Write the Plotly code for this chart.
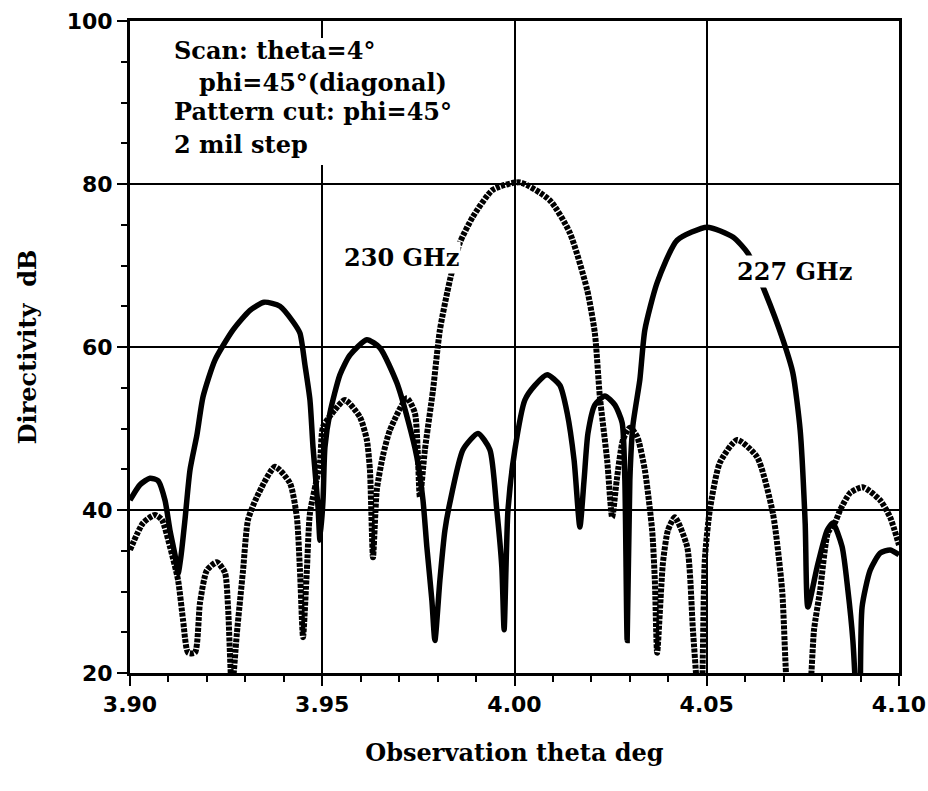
import plotly.graph_objects as go

# 227 GHz (solid curve)
theta_227 = [3.9000, 3.9026, 3.9052, 3.9073, 3.9091, 3.9104, 3.9117, 3.9125, 3.9133, 3.9143,
             3.9156, 3.9174, 3.9190, 3.9221, 3.9268, 3.9312, 3.9349, 3.9390, 3.9424, 3.9442,
             3.9455, 3.9468, 3.9476, 3.9489, 3.9494, 3.9502, 3.9507, 3.9520, 3.9546, 3.9572,
             3.9616, 3.9650, 3.9694, 3.9723, 3.9746, 3.9762, 3.9772, 3.9785, 3.9793, 3.9806,
             3.9819, 3.9832, 3.9866, 3.9905, 3.9936, 3.9954, 3.9967, 3.9973, 3.9983, 4.0001,
             4.0027, 4.0053, 4.0085, 4.0118, 4.0137, 4.0155, 4.0170, 4.0181, 4.0191, 4.0209,
             4.0235, 4.0261, 4.0280, 4.0287, 4.0293, 4.0300, 4.0308, 4.0326, 4.0339, 4.0371,
             4.0423, 4.0501, 4.0568, 4.0607, 4.0652, 4.0698, 4.0724, 4.0743, 4.0756, 4.0763,
             4.0787, 4.0813, 4.0828, 4.0852, 4.0867, 4.0880, 4.0888, 4.0894, 4.0899, 4.0904,
             4.0925, 4.0951, 4.0977, 4.1000]
dir_227 = [41.2, 43.1, 43.9, 43.6, 41.2, 37.5, 34.5, 32.2, 34.5, 38.8,
           44.9, 49.2, 53.9, 58.4, 62.1, 64.5, 65.5, 65.0, 63.1, 61.7,
           57.8, 53.5, 47.7, 40.4, 36.3, 41.2, 47.7, 51.9, 56.6, 59.0,
           60.9, 59.9, 55.6, 51.0, 46.5, 41.2, 35.5, 29.0, 24.0, 31.4,
           37.5, 40.9, 47.4, 49.4, 47.4, 40.0, 33.0, 25.3, 40.0, 47.4,
           53.5, 55.3, 56.6, 55.3, 51.9, 46.1, 37.9, 43.7, 49.4, 52.9,
           54.0, 52.9, 50.7, 43.7, 24.0, 43.7, 50.4, 56.0, 62.1, 67.9,
           73.1, 74.7, 73.5, 71.5, 66.7, 60.9, 56.8, 49.8, 38.4, 28.1,
           33.0, 37.5, 38.4, 35.5, 30.2, 24.0, 17.0, 10.0, 17.0, 28.1,
           32.6, 34.7, 35.1, 34.5]

# 230 GHz (dotted curve)
theta_230 = [3.9000, 3.9034, 3.9065, 3.9083, 3.9104, 3.9125, 3.9138, 3.9151, 3.9169, 3.9182,
             3.9200, 3.9226, 3.9247, 3.9255, 3.9265, 3.9278, 3.9294, 3.9307, 3.9330, 3.9377,
             3.9416, 3.9434, 3.9442, 3.9450, 3.9460, 3.9468, 3.9494, 3.9502, 3.9533, 3.9559,
             3.9598, 3.9616, 3.9624, 3.9632, 3.9642, 3.9658, 3.9676, 3.9720, 3.9741, 3.9754,
             3.9767, 3.9788, 3.9806, 3.9832, 3.9858, 3.9892, 3.9944, 4.0014, 4.0092, 4.0144,
             4.0189, 4.0209, 4.0222, 4.0241, 4.0254, 4.0266, 4.0282, 4.0300, 4.0319, 4.0339,
             4.0358, 4.0365, 4.0371, 4.0386, 4.0399, 4.0417, 4.0449, 4.0464, 4.0475, 4.0482,
             4.0488, 4.0495, 4.0508, 4.0534, 4.0579, 4.0631, 4.0672, 4.0696, 4.0709, 4.0739,
             4.0769, 4.0779, 4.0795, 4.0815, 4.0834, 4.0847, 4.0873, 4.0906, 4.0951, 4.0977,
             4.1000]
dir_230 = [35.1, 38.4, 39.4, 38.8, 35.5, 31.4, 26.5, 22.5, 22.5, 28.6,
           32.6, 33.6, 32.3, 28.1, 17.9, 24.9, 32.6, 38.8, 41.6, 45.3,
           43.3, 39.1, 32.6, 24.4, 32.6, 39.6, 45.8, 50.2, 52.3, 53.5,
           51.4, 48.6, 44.9, 34.2, 42.5, 46.7, 49.8, 53.7, 51.9, 41.6,
           47.4, 54.7, 62.1, 68.2, 72.8, 76.0, 79.3, 80.2, 78.0, 74.0,
           67.0, 61.7, 53.9, 46.1, 39.1, 43.7, 48.6, 50.1, 49.0, 44.9,
           37.5, 31.4, 22.5, 33.5, 37.5, 39.1, 35.5, 25.3, 17.9, 12.0,
           17.9, 33.9, 40.0, 45.8, 48.6, 46.5, 39.6, 30.2, 17.9, 8.0,
           17.9, 25.3, 30.2, 37.2, 38.5, 40.0, 42.1, 42.8, 41.2, 39.1,
           35.7]

x_tick_vals = [3.90, 3.95, 4.00, 4.05, 4.10]
x_tick_text = ["3.90", "3.95", "4.00", "4.05", "4.10"]
y_tick_vals = [20, 40, 60, 80, 100]
y_tick_text = ["20", "40", "60", "80", "100"]

info_lines = ["Scan: theta=4°", "phi=45°(diagonal)", "Pattern cut: phi=45°", "2 mil step"]

SERIF = "DejaVu Serif"
SANS = "DejaVu Sans"

fig = go.Figure()
fig.add_trace(go.Scatter(
    x=theta_230, y=dir_230, mode="lines", name="230 GHz",
    line=dict(color="black", width=6, dash="4px,1.3px", shape="spline", smoothing=0.6),
))
fig.add_trace(go.Scatter(
    x=theta_227, y=dir_227, mode="lines", name="227 GHz",
    line=dict(color="black", width=5.5, shape="spline", smoothing=0.6),
))

axis_common = dict(
    showgrid=True, gridcolor="black", gridwidth=2,
    showline=True, linecolor="black", linewidth=3, mirror=True,
    zeroline=False, ticks="outside", ticklen=10, tickwidth=2, tickcolor="black",
    automargin=False,
    tickfont=dict(family=SANS, size=22, color="black", weight="bold"),
)

fig.update_layout(
    width=928, height=791,
    margin=dict(l=130, r=29, t=21, b=118, autoexpand=False),
    paper_bgcolor="white", plot_bgcolor="white",
    showlegend=False,
    xaxis=dict(
        range=[3.9, 4.1], tickvals=x_tick_vals, ticktext=x_tick_text,
        minor=dict(dtick=0.01, tick0=3.9, ticks="outside", ticklen=6, tickwidth=2,
                   tickcolor="black", showgrid=False),
        title=dict(text="Observation theta deg", standoff=28,
                   font=dict(family=SERIF, size=24, color="black", weight="bold")),
        **axis_common,
    ),
    yaxis=dict(
        range=[20, 100], tickvals=y_tick_vals, ticktext=y_tick_text,
        minor=dict(dtick=5, tick0=20, ticks="outside", ticklen=6, tickwidth=2,
                   tickcolor="black", showgrid=False),
        title=dict(text="Directivity\u00a0\u00a0dB", standoff=24,
                   font=dict(family=SERIF, size=24, color="black", weight="bold")),
        **axis_common,
    ),
)

# white box behind the info text (hides the 3.95 grid line there)
fig.add_shape(type="rect", xref="paper", yref="paper",
              x0=0.045, x1=0.45, y0=(673 - 165) / 652, y1=(673 - 38) / 652,
              fillcolor="white", line=dict(width=0), layer="above")

info_x = [0.0546, 0.0871, 0.0546, 0.0546]
info_y = [(673 - 51) / 652, (673 - 82) / 652, (673 - 112) / 652, (673 - 144) / 652]
for txt, xx, yy in zip(info_lines, info_x, info_y):
    fig.add_annotation(text=txt, xref="paper", yref="paper", x=xx, y=yy,
                       xanchor="left", yanchor="middle", showarrow=False,
                       font=dict(family=SERIF, size=24, color="black", weight="bold"))

fig.add_annotation(text="230 GHz", x=3.9705, y=71.0, showarrow=False,
                   xanchor="center", yanchor="middle", bgcolor="white",
                   font=dict(family=SERIF, size=24, color="black", weight="bold"))
fig.add_annotation(text="227 GHz", x=4.0727, y=69.3, showarrow=False,
                   xanchor="center", yanchor="middle", bgcolor="white",
                   font=dict(family=SERIF, size=24, color="black", weight="bold"))

fig.write_html("out.html")
